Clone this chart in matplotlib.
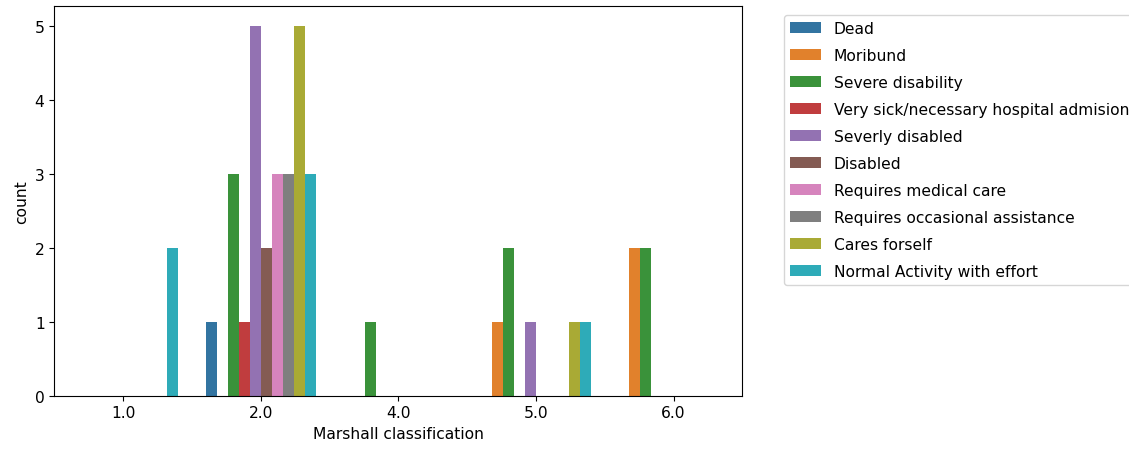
import numpy as np
import matplotlib.pyplot as plt
import seaborn as sns

categories = ['1.0', '2.0', '4.0', '5.0', '6.0']
hue_levels = ['Dead', 'Moribund', 'Severe disability',
              'Very sick/necessary hospital admision', 'Severly disabled',
              'Disabled', 'Requires medical care',
              'Requires occasional assistance', 'Cares forself',
              'Normal Activity with effort']
# counts per hue level, one value per category
counts = [
    [0, 1, 0, 0, 0],  # Dead
    [0, 0, 0, 1, 2],  # Moribund
    [0, 3, 1, 2, 2],  # Severe disability
    [0, 1, 0, 0, 0],  # Very sick
    [0, 5, 0, 1, 0],  # Severly disabled
    [0, 2, 0, 0, 0],  # Disabled
    [0, 3, 0, 0, 0],  # Requires medical care
    [0, 3, 0, 0, 0],  # Requires occasional assistance
    [0, 5, 0, 1, 0],  # Cares forself
    [2, 3, 0, 1, 0],  # Normal Activity with effort
]

colors = sns.color_palette('tab10', 10, desat=0.75)
fs = 11.2

fig = plt.figure(figsize=(11.29, 4.56), dpi=100)
ax = fig.add_axes([0.0481, 0.130, 0.6094, 0.854])

n = len(hue_levels)
width = 0.8 / n
x = np.arange(len(categories))
for i, (label, vals) in enumerate(zip(hue_levels, counts)):
    pos = x - 0.4 + width * (i + 0.5)
    ax.bar(pos, vals, width=width, color=colors[i], label=label)

ax.set_xticks(x)
ax.set_xticklabels(categories)
ax.set_xlim(-0.5, 4.5)
ax.set_ylim(0, 5.27)
ax.tick_params(labelsize=fs)
ax.set_xlabel('Marshall classification', fontsize=fs)
ax.set_ylabel('count', fontsize=fs)

ax.legend(loc='upper left', bbox_to_anchor=(784 / 1129, 1 - 16 / 456),
          bbox_transform=fig.transFigure, fontsize=fs, borderaxespad=0,
          labelspacing=0.77)

fig.savefig('out.png', dpi=100)
